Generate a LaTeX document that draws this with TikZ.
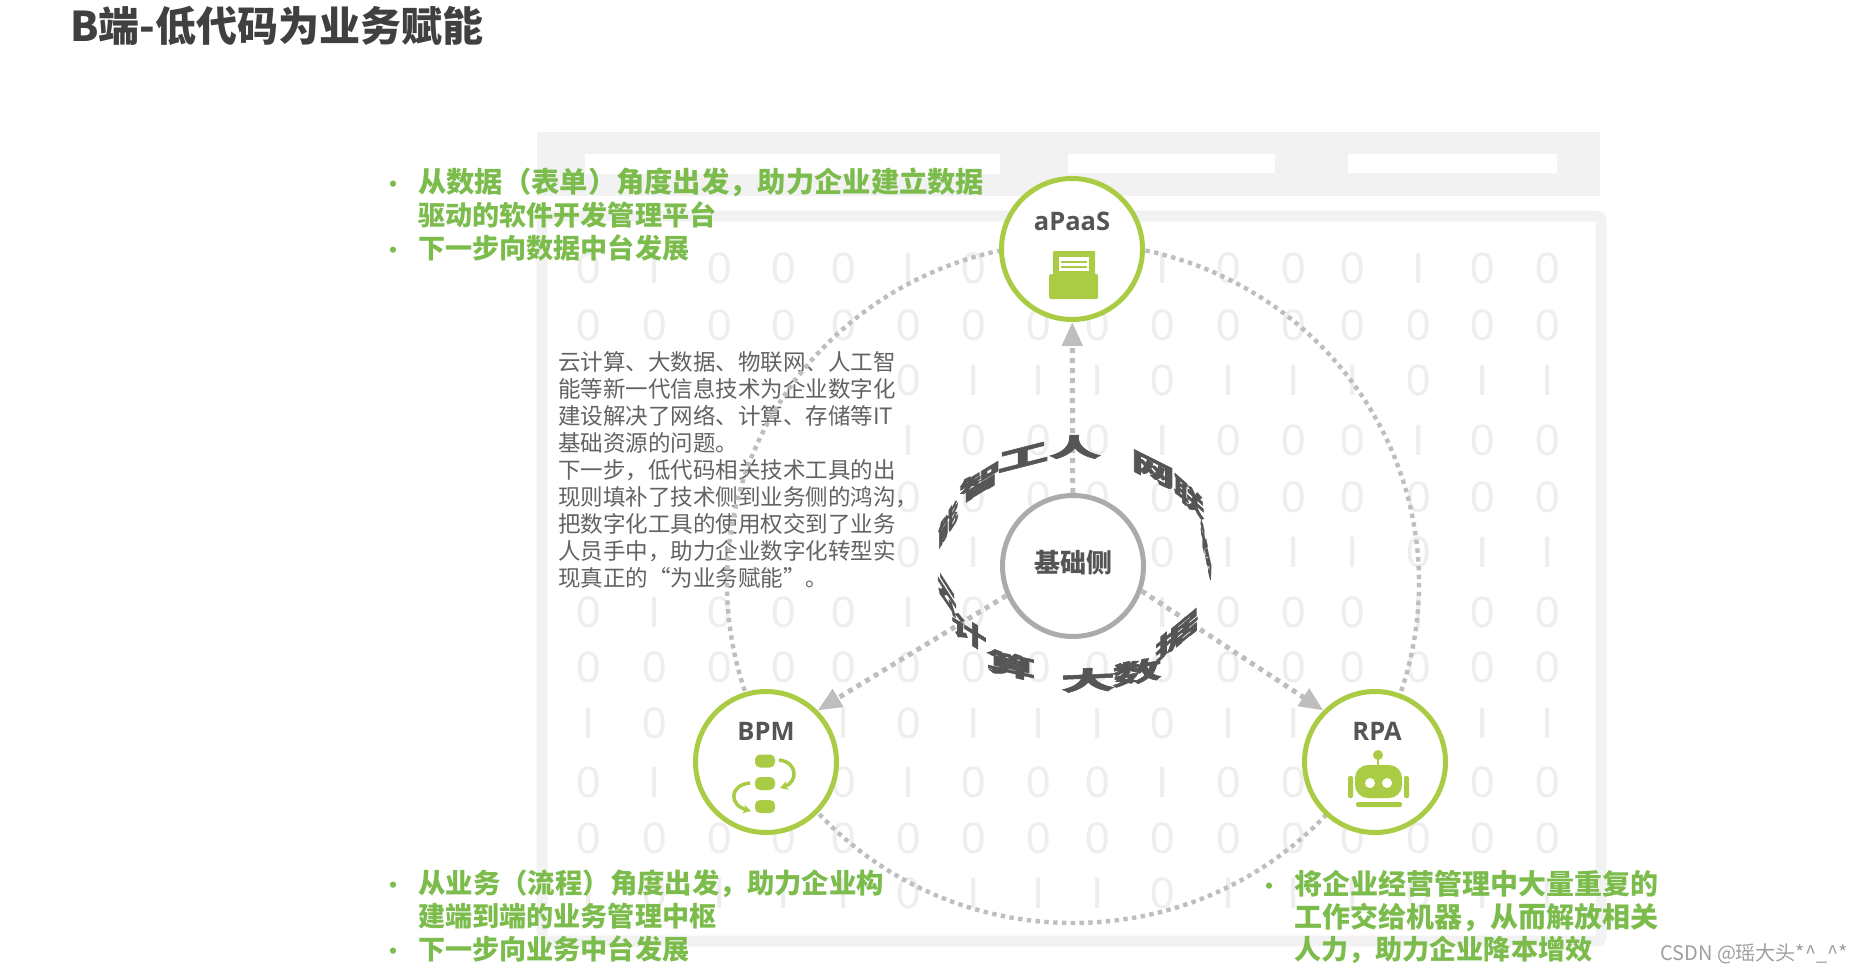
\documentclass[tikz,border=0pt]{standalone}
\usepackage{fontspec}
\usepackage{xcolor}
\usepackage{tikz}
\usetikzlibrary{arrows.meta}
\setmainfont{Noto Sans CJK SC}
\newfontfamily\latinbold{Open Sans}
\newfontfamily\digitfont{Liberation Sans}
\newfontfamily\ringfont[BoldFeatures={FakeBold=2}]{Noto Sans CJK SC}
\definecolor{leaf}{RGB}{170,204,68}
\definecolor{leaftext}{RGB}{124,188,76}
\definecolor{backdrop}{RGB}{242,242,242}
\definecolor{digitgrey}{RGB}{238,238,238}
\definecolor{dotgrey}{RGB}{190,190,190}
\definecolor{inkgrey}{RGB}{85,85,85}
\definecolor{bodygrey}{RGB}{98,98,98}

\begin{document}
\begin{tikzpicture}[
  x=1pt, y=-1pt,
  sat/.style={circle, draw=leaf, line width=5pt, fill=white, inner sep=0pt, minimum size=141pt},
  basecirc/.style={sat, draw=black!33},
  lbl/.style={inner sep=0pt, text=inkgrey, font=\latinbold\bfseries\fontsize{25.5}{26}\selectfont},
  digit/.style={inner sep=0pt, text=digitgrey, font=\digitfont\fontsize{44}{44}\selectfont},
  greentxt/.style={anchor=north west, inner sep=0pt, align=left, text=leaftext,
                   font=\bfseries\fontsize{27.1}{32.6}\selectfont},
  bodytxt/.style={anchor=north west, inner sep=3pt, align=left, fill=white, text=bodygrey,
                  minimum width=338pt, minimum height=247pt, text width=332pt,
                  font=\fontsize{22.5}{27}\selectfont},
  ringch/.style={inner sep=0pt, transform shape, text=inkgrey,
                 font=\ringfont\bfseries\fontsize{48}{48}\selectfont},
  arr/.style={-{Triangle[length=24pt, width=20pt]}, draw=dotgrey, line width=5pt,
              dash pattern=on 5pt off 5pt},
  dotarc/.style={draw=dotgrey, line width=4.4pt, dash pattern=on 4.4pt off 4.4pt},
  icon/.style={fill=leaf, draw=none}]

\useasboundingbox (0,0) rectangle (1862,971);

\node[anchor=west, inner sep=0pt, text=black!75, font=\bfseries\fontsize{41}{41}\selectfont]
  (title) at (70,26) {B端-低代码为业务赋能};

\fill[backdrop] (537,132) rectangle (1600,196);
\fill[white] (585,154) rectangle (1000,174);
\fill[white] (1068,154) rectangle (1275,173);
\fill[white] (1348,154) rectangle (1557,173);
\draw[backdrop, line width=11pt, rounded corners=4pt] (542,216) rectangle (1601,941);

\foreach \ry/\pat in {268/a,325/b,380/c,440/a,497/b,552/c,612/a,667/b,723/c,782/a,838/b,893/c} {
  \foreach \cx [count=\k from 0] in {589,655,720,784,844,909,974,1039,1098,1163,1229,1294,1353,1419,1483,1548} {
    \pgfmathtruncatemacro\rem{mod(\k,4)}
    \def\glyph{0}
    \if a\pat \ifnum\rem=1 \def\glyph{I}\fi\fi
    \if c\pat \ifnum\rem=1 \else \def\glyph{I}\fi\fi
    \node[digit] (d\ry-\k) at (\cx,\ry) {\glyph};
  }
}

\node[bodytxt] (body) at (555,346)
  {云计算、大数据、物联网、人工智\\
   能等新一代信息技术为企业数字化\\
   建设解决了网络、计算、存储等IT\\
   基础资源的问题。\\
   下一步，低代码相关技术工具的出\\
   现则填补了技术侧到业务侧的鸿沟，\\
   把数字化工具的使用权交到了业务\\
   人员手中，助力企业数字化转型实\\
   现真正的“为业务赋能”。};

\draw[dotarc] (1073,583) ellipse [x radius=346, y radius=340];

\node[sat] (apaas) at (1072,249) {};
\node[sat] (bpm) at (766,762) {};
\node[sat] (rpa) at (1375,762) {};
\node[basecirc] (base) at (1073,566) {};

\draw[arr] (base) -- (apaas);
\draw[arr] (base.204) -- (bpm.45);
\draw[arr] (base.340) -- (rpa.135);

\foreach \c/\px/\py/\gw/\gr in {人/1075/447/48/0,工/1023/457/47/12,智/980/482/38/23,能/948/523/19/30,
    云/947/595/18/-28,计/969/632/32/-20,算/1011/665/45/-10,大/1088/680/50/2,数/1137/672/45/8,
    据/1177/635/40/33,网/1153/470/40/-20,联/1189/497/28/-25,物/1206/550/10/-45} {
  \pgfmathsetmacro\sx{\gw/44}
  \pgfmathsetmacro\sy{\gr/44}
  \node[ringch, cm={\sx,\sy,0,.52,(\px,\py)}] (ring\px) at (0,0) {\c};
}

\node[lbl, font=\bfseries\fontsize{26}{26}\selectfont] (basetxt) at (1073,563) {基础侧};
\node[lbl] (apaastxt) at (1072,221) {aPaaS};
\node[lbl] (bpmtxt) at (766,731) {BPM};
\node[lbl] (rpatxt) at (1377,731) {RPA};

\fill[icon, rounded corners=1pt] (1053,251) rectangle (1095,276);
\fill[white] (1059,257) rectangle (1089,271);
\fill[icon] (1061,261) rectangle (1087,263);
\fill[icon] (1061,266) rectangle (1087,268);
\fill[icon, rounded corners=1.5pt] (1049,274) rectangle (1098,299);

\foreach \yy in {761,783.5,806.5} \fill[icon, rounded corners=5pt] (755,\yy-6.5) rectangle (775,\yy+6.5);
\draw[leaf, line width=3.5pt, -{Stealth[length=8pt, width=9pt]}]
  (779,760) .. controls (798,762) and (798,782) .. (780,788);
\draw[leaf, line width=3.5pt, -{Stealth[length=8pt, width=9pt]}]
  (750,783) .. controls (729,785) and (729,805) .. (751,811);

\fill[icon] (1378,755) circle (5);
\draw[leaf, line width=2.5pt] (1378,755) -- (1378,768);
\fill[icon, rounded corners=13pt] (1355,765) rectangle (1402,798);
\fill[white] (1370,783) circle (5);
\fill[white] (1387,783) circle (5);
\fill[icon, rounded corners=2pt] (1348,776) rectangle (1353,798);
\fill[icon, rounded corners=2pt] (1404,776) rectangle (1409,798);
\fill[icon, rounded corners=2pt] (1356,802) rectangle (1402,807);

\newcommand{\dotmark}{\llap{\fontsize{22}{22}\selectfont •\hspace{14pt}}}
\node[greentxt] (formtxt) at (418,168)
  {\dotmark {\fontsize{28.3}{32.6}\selectfont 从数据（表单）角度出发，助力企业建立数据}\\
   驱动的软件开发管理平台\\
   \dotmark 下一步向数据中台发展};
\node[greentxt] (flowtxt) at (418,870)
  {\dotmark {\fontsize{27.4}{32.6}\selectfont 从业务（流程）角度出发，助力企业构}\\
   建端到端的业务管理中枢\\
   \dotmark 下一步向业务中台发展};
\node[greentxt] (robotxt) at (1294,870)
  {\dotmark {\fontsize{28}{32.6}\selectfont 将企业经营管理中大量重复的}\\
   {\fontsize{28}{32.6}\selectfont 工作交给机器，从而解放相关}\\
   人力，助力企业降本增效};

\node[anchor=west, inner sep=0pt, text=black!38, font=\fontsize{20}{20}\selectfont]
  (mark) at (1660,954) {CSDN @瑶大头*\textasciicircum\_\textasciicircum*};
\end{tikzpicture}
\end{document}
